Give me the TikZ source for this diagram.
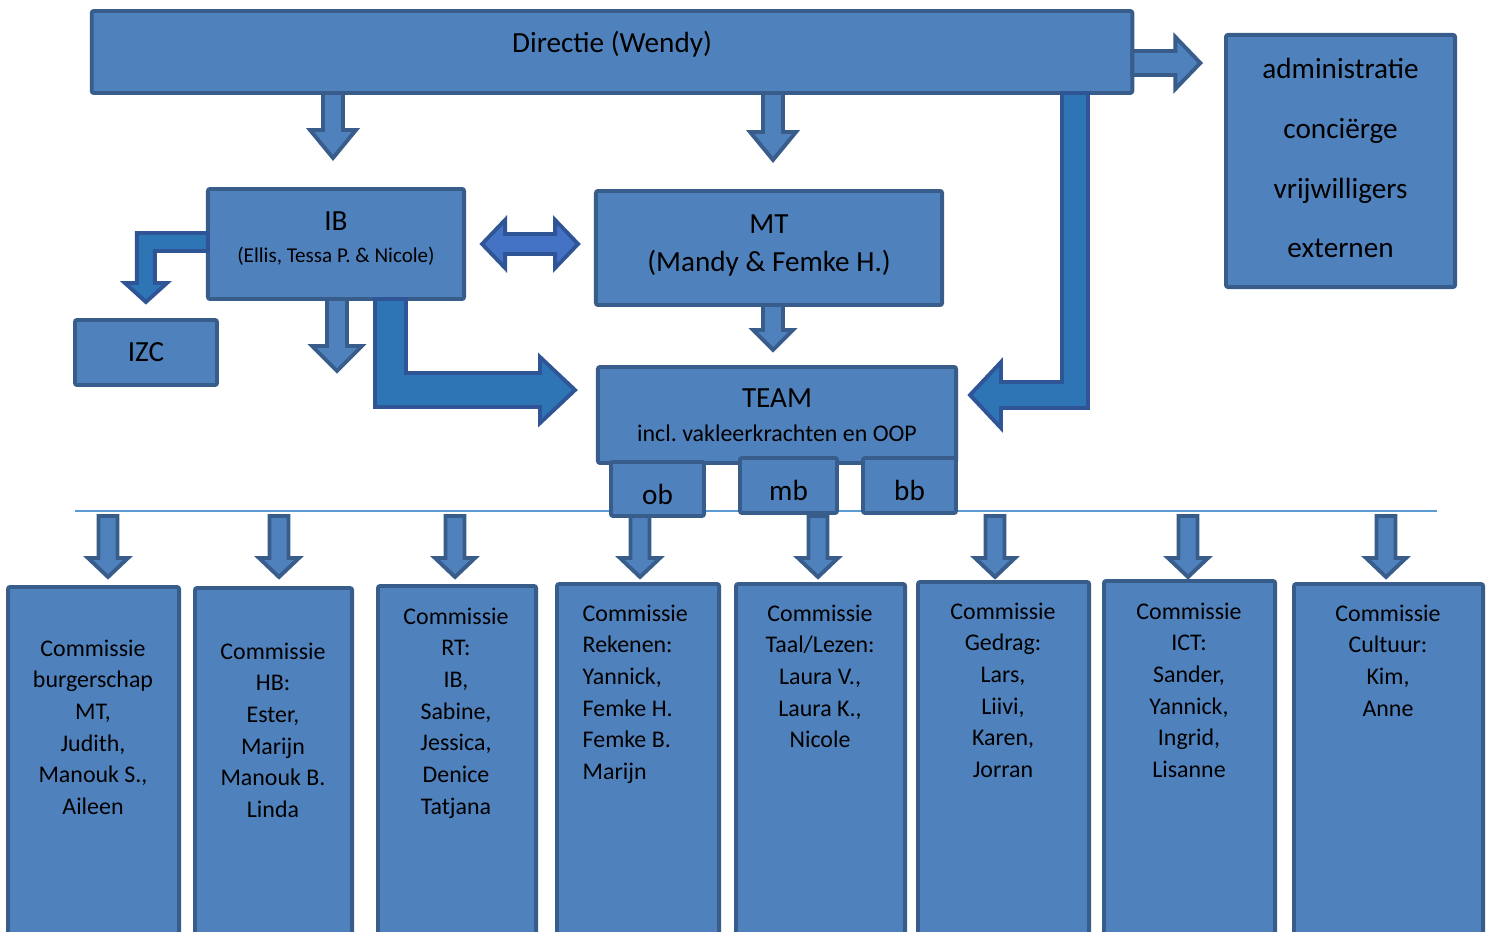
\documentclass[tikz,border=0pt]{standalone}
\usepackage{fontspec}
\setmainfont{Carlito}
\usepackage{tikz}
\usetikzlibrary{calc}
\usepackage{xcolor}

\definecolor{boxfill}{HTML}{4F81BD}
\definecolor{boxline}{HTML}{385D8A}
\definecolor{bentfill}{HTML}{2E75B6}
\definecolor{bentline}{HTML}{2F5597}
\definecolor{dblfill}{HTML}{4472C4}
\definecolor{rulecol}{HTML}{5B9BD5}

\tikzset{
  box/.style={draw=boxline, fill=boxfill, line width=1.1pt, rounded corners=0.6pt, inner sep=0pt, outer sep=0pt, align=center, font=\fontsize{8.3}{10}\selectfont},
  comtext/.style={anchor=north, align=center, inner sep=0pt, font=\fontsize{6.8}{9}\selectfont},
  blockarr/.style={draw=boxline, fill=boxfill, line width=1.1pt},
  bentarr/.style={draw=bentline, fill=bentfill, line width=1.1pt},
  dblarr/.style={draw=bentline, fill=dblfill, line width=1.1pt}
}

% down block arrow: start, tip, shaft half width, head half width, head length (px)
\newcommand{\blockdown}[5]{%
  \draw[blockarr] let \p1=(#1), \p2=(#2), \n1={#3*0.2845}, \n2={#4*0.2845}, \n3={#5*0.2845} in
    (\x1-\n1,\y1) -- (\x1-\n1,\y2+\n3) -- (\x1-\n2,\y2+\n3) -- (\x1,\y2)
    -- (\x1+\n2,\y2+\n3) -- (\x1+\n1,\y2+\n3) -- (\x1+\n1,\y1) -- cycle;}

\begin{document}
\begin{tikzpicture}[x=0.01cm, y=-0.01cm]
\useasboundingbox (0,0) rectangle (1489,931);
\clip (0,0) rectangle (1489,931);

\coordinate (hl) at (75,511);
\coordinate (hr) at (1437,511);
\draw[rulecol, line width=0.45pt] (hl)--(hr);

\node[box, minimum width=10.40cm, minimum height=0.82cm, text height=6.5pt, text depth=6.2pt] (dir) at (612,52){Directie (Wendy)};
\node[box, minimum width=2.29cm, minimum height=2.52cm, font=\fontsize{8.3}{17}\selectfont, text depth=1.7pt] (adm) at (1340.5,161){administratie\\conciërge\\vrijwilligers\\externen};

\node[box, minimum width=2.56cm, minimum height=1.10cm, font=\fontsize{8.3}{9.1}\selectfont, text depth=3.7pt] (ib) at (336,244){IB\\{\fontsize{6}{7}\selectfont (Ellis, Tessa P. \& Nicole)}};
\node[box, minimum width=3.46cm, minimum height=1.14cm, font=\fontsize{8.3}{10.8}\selectfont, text depth=2.55pt] (mt) at (769,248){MT\\(Mandy \& Femke H.)};
\node[box, minimum width=1.42cm, minimum height=0.65cm] (izc) at (146,352.5){IZC};

\node[box, minimum width=3.58cm, minimum height=0.96cm, font=\fontsize{8.3}{9.7}\selectfont] (team) at (777,415){TEAM\\{\fontsize{6.8}{8}\selectfont incl.\ vakleerkrachten en OOP}};
\node[box, minimum width=0.93cm, minimum height=0.54cm, text height=8.7pt, text depth=0pt] (ob) at (657.5,489){ob};
\node[box, minimum width=0.97cm, minimum height=0.55cm, text height=8.6pt, text depth=0pt] (mb) at (788.5,485.5){mb};
\node[box, minimum width=0.93cm, minimum height=0.55cm, text height=8.6pt, text depth=0pt] (bb) at (909.5,485.5){bb};

% directie arrows
\coordinate (dib) at (333,93);
\coordinate (dmt) at (773,93);
\blockdown{dib}{$(ib.north)+(0,-31)$}{10}{23}{28}
\blockdown{dmt}{$(mt.north)+(0,-31)$}{10}{23}{28}
\draw[blockarr] ($(dir.east)+(0,-1)$) -- ++(43,0) -- ++(0,-14) -- ++(25,26) -- ++(-25,26) -- ++(0,-14) -- ++(-43,0) -- cycle;
\draw[bentarr] ($(dir.south)+(450,0)$) -- ++(0,289) -- ++(-61,0) -- ++(0,-20) -- ++(-31,33) -- ++(31,33) -- ++(0,-20) -- ++(87,0) -- ++(0,-315) -- cycle;

% IB and MT
\draw[dblarr] ($(ib.east)+(18,0)$) -- ++(23,-24) -- ++(0,14) -- ++(50,0) -- ++(0,-14) -- ++(23,24) -- ++(-23,24) -- ++(0,-14) -- ++(-50,0) -- ++(0,14) -- cycle;
\draw[bentarr] ($(ib.west)+(0,-11)$) -- ++(-71,0) -- ++(0,50) -- ++(-12,0) -- ++(21,19) -- ++(21,-19) -- ++(-12,0) -- ++(0,-32) -- ++(53,0) -- cycle;
\coordinate (ibdown) at (337,371);
\blockdown{$(ib.south)+(1,0)$}{ibdown}{10}{25}{25}
\draw[bentarr] ($(ib.south)+(39,0)$) -- ++(0,108) -- ++(165,0) -- ++(0,16) -- ++(35,-33) -- ++(-35,-33) -- ++(0,16) -- ++(-134,0) -- ++(0,-74) -- cycle;
\blockdown{$(mt.south)+(4,0)$}{$(team.north)+(0,-17)$}{10}{20}{20}

% commissies
\node[box, anchor=north west, minimum width=1.71cm, minimum height=3.7cm] (c1) at (8,587){};
\node[box, anchor=north west, minimum width=1.57cm, minimum height=3.7cm] (c2) at (195,588){};
\node[box, anchor=north west, minimum width=1.58cm, minimum height=3.7cm] (c3) at (378,586){};
\node[box, anchor=north west, minimum width=1.62cm, minimum height=3.7cm] (c4) at (557,584){};
\node[box, anchor=north west, minimum width=1.69cm, minimum height=3.7cm] (c5) at (736,584){};
\node[box, anchor=north west, minimum width=1.71cm, minimum height=3.7cm] (c6) at (918,582){};
\node[box, anchor=north west, minimum width=1.71cm, minimum height=3.7cm] (c7) at (1104,581){};
\node[box, anchor=north west, minimum width=1.89cm, minimum height=3.7cm] (c8) at (1294,584){};

\node[comtext] (c1t) at (93,639){Commissie\\burgerschap\\MT,\\Judith,\\Manouk S.,\\Aileen};
\node[comtext] (c2t) at (273,642){Commissie\\HB:\\Ester,\\Marijn\\Manouk B.\\Linda};
\node[comtext] (c3t) at (456,607){Commissie\\RT:\\IB,\\Sabine,\\Jessica,\\Denice\\Tatjana};
\node[comtext, anchor=north west, align=left] (c4t) at (582,604){Commissie\\Rekenen:\\Yannick,\\Femke H.\\Femke B.\\Marijn};
\node[comtext] (c5t) at (820,604){Commissie\\Taal/Lezen:\\Laura V.,\\Laura K.,\\Nicole};
\node[comtext] (c6t) at (1003,602){Commissie\\Gedrag:\\Lars,\\Liivi,\\Karen,\\Jorran};
\node[comtext] (c7t) at (1189,602){Commissie\\ICT:\\Sander,\\Yannick,\\Ingrid,\\Lisanne};
\node[comtext] (c8t) at (1388,604){Commissie\\Cultuur:\\Kim,\\Anne};

\coordinate (a1) at (108,516);
\coordinate (a2) at (279,516);
\coordinate (a3) at (455,516);
\coordinate (a4) at (640,516);
\coordinate (a5) at (818,516);
\coordinate (a6) at (995,516);
\coordinate (a7) at (1188,516);
\coordinate (a8) at (1386,516);
\blockdown{a1}{$(c1.north)+(0,-10)$}{9.5}{20}{19}
\blockdown{a2}{$(c2.north)+(0,-11)$}{9.5}{20}{19}
\blockdown{a3}{$(c3.north)+(0,-9)$}{9.5}{20}{19}
\blockdown{a4}{$(c4.north)+(0,-7)$}{9.5}{20}{19}
\blockdown{a5}{$(c5.north)+(0,-7)$}{9.5}{20}{19}
\blockdown{a6}{$(c6.north)+(0,-5)$}{9.5}{20}{19}
\blockdown{a7}{$(c7.north)+(0,-4)$}{9.5}{20}{19}
\blockdown{a8}{$(c8.north)+(0,-7)$}{9.5}{20}{19}
\end{tikzpicture}
\end{document}
